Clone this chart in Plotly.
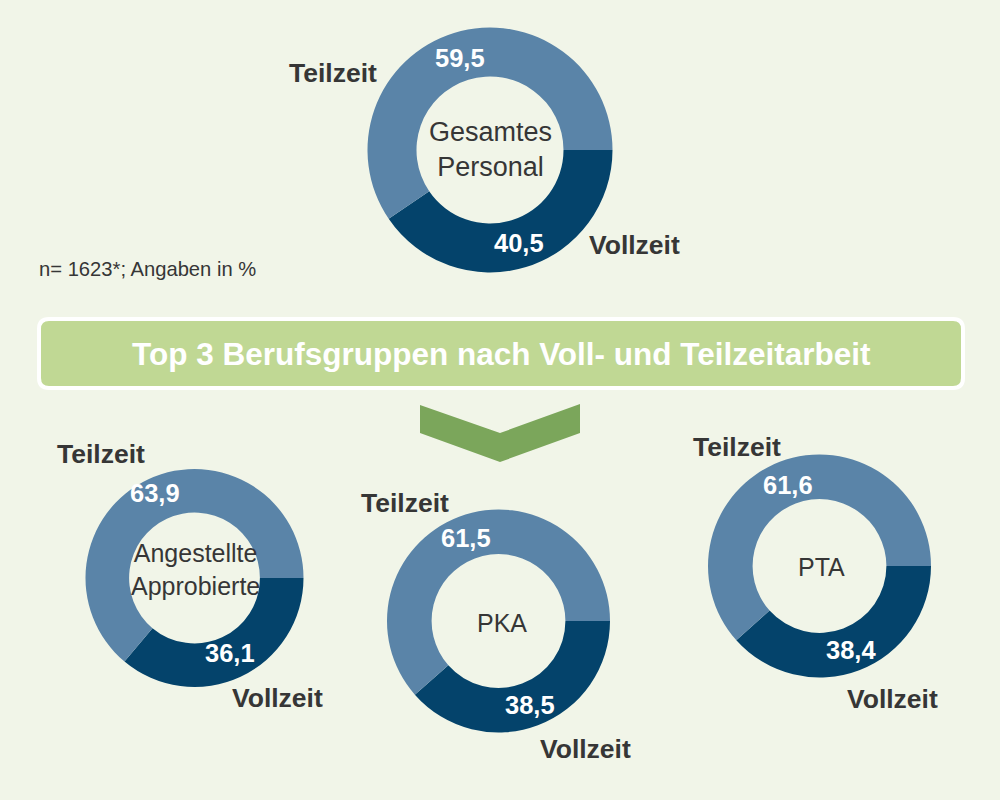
import plotly.graph_objects as go

# ---- data ----
groups = ["Gesamtes<br>Personal", "Angestellte<br>Approbierte", "PKA", "PTA"]
vollzeit = [40.5, 36.1, 38.5, 38.4]
teilzeit = [59.5, 63.9, 61.5, 61.6]
slice_labels = ["Vollzeit", "Teilzeit"]
note_text = "n= 1623*; Angaben in %"
banner_text = "Top 3 Berufsgruppen nach Voll- und Teilzeitarbeit"

# ---- layout constants (pixels) ----
W, H = 1000, 800
BG = "#f1f5e8"
DARK = "#04436b"
LIGHT = "#5a84a8"
TXT = "#363636"
FONT = "Liberation Sans, Arial, sans-serif"

# donut centre x, centre y, outer radius
geo = [(490, 150, 122.5), (194.5, 578, 109), (498.5, 621, 111.5), (819.5, 566, 111.5)]
# positions: teilzeit value, vollzeit value, teilzeit label, vollzeit label, centre text
pos_tz_val = [(460, 58), (155, 493), (466, 538), (788, 485)]
pos_vz_val = [(519, 243), (230, 653), (530, 705), (851, 650)]
pos_tz_lab = [(333, 73), (101, 454), (405, 503), (737, 447)]
pos_vz_lab = [(634, 245), (277, 698), (585, 749), (892, 699)]
pos_center = [(490, 149), (195, 569), (502, 623), (821, 567)]
center_size = [27, 25, 25, 25]

fig = go.Figure()

for i, (cx, cy, r) in enumerate(geo):
    fig.add_trace(go.Pie(
        values=[vollzeit[i], teilzeit[i]],
        labels=slice_labels,
        marker=dict(colors=[DARK, LIGHT], line=dict(width=0)),
        hole=0.6,
        sort=False,
        direction="clockwise",
        rotation=90,
        textinfo="none",
        showlegend=False,
        hovertemplate="%{label}: %{value}<extra></extra>",
        domain=dict(x=[(cx - r) / W, (cx + r) / W],
                    y=[1 - (cy + r) / H, 1 - (cy - r) / H]),
    ))

def fmt(v):
    return f"{v:.1f}".replace(".", ",")

ann = []
for i in range(len(groups)):
    ann.append(dict(x=pos_tz_val[i][0], y=pos_tz_val[i][1], text=fmt(teilzeit[i]),
                    font=dict(size=25.5, color="white", family=FONT, weight="bold")))
    ann.append(dict(x=pos_vz_val[i][0], y=pos_vz_val[i][1], text=fmt(vollzeit[i]),
                    font=dict(size=25.5, color="white", family=FONT, weight="bold")))
    ann.append(dict(x=pos_tz_lab[i][0], y=pos_tz_lab[i][1], text=slice_labels[1],
                    font=dict(size=26.5, color=TXT, family=FONT, weight="bold")))
    ann.append(dict(x=pos_vz_lab[i][0], y=pos_vz_lab[i][1], text=slice_labels[0],
                    font=dict(size=26.5, color=TXT, family=FONT, weight="bold")))
    ann.append(dict(x=pos_center[i][0], y=pos_center[i][1], text=groups[i],
                    font=dict(size=center_size[i], color=TXT, family=FONT)))

for a in ann:
    a.update(xref="x", yref="y", showarrow=False, xanchor="center", yanchor="middle")

ann.append(dict(x=37, y=269, xref="x", yref="y", text=note_text, showarrow=False,
                xanchor="left", yanchor="middle",
                font=dict(size=20.2, color=TXT, family=FONT)))
ann.append(dict(x=501, y=354, xref="x", yref="y", text=banner_text, showarrow=False,
                xanchor="center", yanchor="middle",
                font=dict(size=31.5, color="white", family=FONT, weight="bold")))

# banner rounded rectangle
x0, x1, y0, y1, rr = 39, 963, 319, 388, 10
banner_path = (f"M {x0+rr},{y0} L {x1-rr},{y0} Q {x1},{y0} {x1},{y0+rr} "
               f"L {x1},{y1-rr} Q {x1},{y1} {x1-rr},{y1} L {x0+rr},{y1} "
               f"Q {x0},{y1} {x0},{y1-rr} L {x0},{y0+rr} Q {x0},{y0} {x0+rr},{y0} Z")
chevron_path = "M 420,405 L 500,433 L 580,404 L 580,433 L 500,462 L 420,433 Z"

shapes = [
    dict(type="path", path=banner_path, xref="x", yref="y",
         fillcolor="#c0d894", line=dict(color="white", width=4), layer="below"),
    dict(type="path", path=chevron_path, xref="x", yref="y",
         fillcolor="#7ba65b", line=dict(width=0), layer="below"),
]

fig.update_layout(
    width=W, height=H,
    margin=dict(l=0, r=0, t=0, b=0),
    paper_bgcolor=BG, plot_bgcolor=BG,
    xaxis=dict(range=[0, W], visible=False, fixedrange=True, domain=[0, 1]),
    yaxis=dict(range=[H, 0], visible=False, fixedrange=True, domain=[0, 1]),
    annotations=ann,
    shapes=shapes,
    font=dict(family=FONT),
)

fig.write_html("out.html", config={"displayModeBar": False},
               post_script="document.body.style.margin='0';document.body.style.background='%s';" % BG)
